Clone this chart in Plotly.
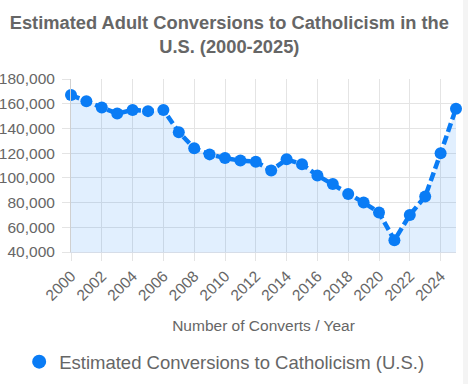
import plotly.graph_objects as go

years = list(range(2000, 2026))
converts = [167000, 162000, 157000, 152000, 155000, 154000, 155000, 137000,
            124000, 119000, 116000, 114000, 113000, 106000, 115000, 111000,
            102000, 95000, 87000, 80000, 72000, 49500, 70000, 85000, 120000, 156000]
series_name = "Estimated Conversions to Catholicism (U.S.)"
title_text = "Estimated Adult Conversions to Catholicism in the<br>U.S. (2000-2025)"
x_title = "Number of Converts / Year"

blue = "#0a7cf5"
grey = "#666666"
font = "Liberation Sans, Arial, Helvetica, sans-serif"

fig = go.Figure()
fig.add_trace(go.Scatter(
    x=years, y=converts, mode="lines+markers",
    line=dict(color=blue, width=4.5, dash="9px,4px"),
    marker=dict(color=blue, size=12),
    fill="tozeroy", fillcolor="rgba(10,124,245,0.12)",
    cliponaxis=False, showlegend=False, name=series_name,
))
fig.add_trace(go.Scatter(
    x=[None], y=[None], mode="markers",
    marker=dict(color=blue, size=14),
    name=series_name, showlegend=True,
))

fig.add_shape(type="rect", xref="paper", yref="paper",
              x0=1.018, x1=1.04, y0=-2, y1=2,
              fillcolor="#f4f4f4", line=dict(width=0), layer="below")

fig.update_layout(
    width=468, height=384,
    margin=dict(l=71, r=12, t=79, b=132),
    paper_bgcolor="white", plot_bgcolor="white",
    font=dict(family=font, color=grey),
    title=dict(text=title_text, x=0.49, xref="container", xanchor="center",
               y=0.925, yref="container", yanchor="top",
               font=dict(size=18.3, color=grey, family=font, weight="bold")),
    legend=dict(orientation="h", xref="container", yref="container",
                x=0.479, xanchor="center", y=0.057, yanchor="middle",
                font=dict(size=18.5, color=grey)),
)
fig.update_xaxes(
    range=[2000, 2025], dtick=2, tick0=2000, tickangle=-45,
    tickfont=dict(size=15.5, color=grey),
    showgrid=True, gridcolor="#e4e4e4", gridwidth=1,
    ticks="outside", ticklen=8, tickcolor="#e4e4e4",
    showline=True, linecolor="#d6dde8", zeroline=False,
    title=dict(text=x_title, font=dict(size=15.5, color=grey), standoff=17),
    automargin=False,
)
fig.update_yaxes(
    range=[40000, 180000], dtick=20000, tickformat=",",
    tickfont=dict(size=15.5, color=grey), ticklabelstandoff=4,
    showgrid=True, gridcolor="#e4e4e4", gridwidth=1,
    ticks="outside", ticklen=8, tickcolor="#e4e4e4",
    showline=True, linecolor="#d0d0d0", zeroline=False,
    automargin=False,
)

fig.write_html("out.html", config={"displayModeBar": False},
               post_script="document.body.style.margin='0';")
